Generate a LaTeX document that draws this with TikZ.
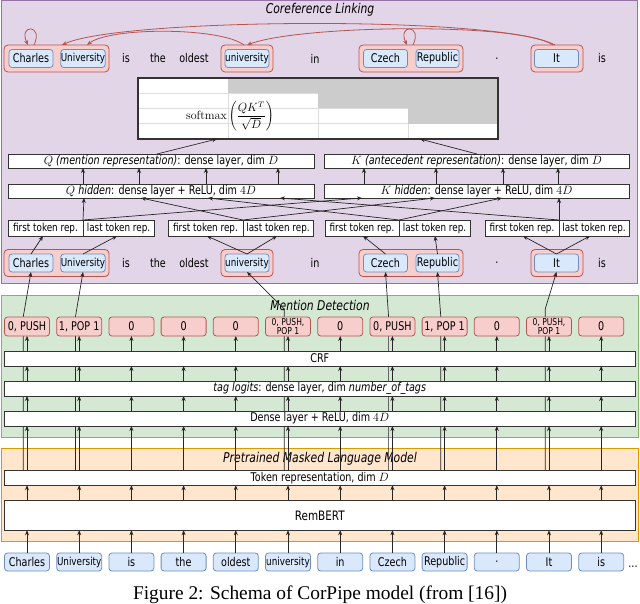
\documentclass[tikz,border=0pt]{standalone}
\usepackage[no-math]{fontspec}
\setmainfont{DejaVu Sans}[FakeStretch=0.8]
\newfontfamily\capfont{Liberation Serif}
\usetikzlibrary{arrows.meta,calc}
\definecolor{purpF}{HTML}{E1D5E7}
\definecolor{purpD}{HTML}{9673A6}
\definecolor{greenF}{HTML}{D5E8D4}
\definecolor{greenD}{HTML}{82B366}
\definecolor{orF}{HTML}{FFE6CC}
\definecolor{orD}{HTML}{D79B00}
\definecolor{blF}{HTML}{DAE8FC}
\definecolor{blD}{HTML}{6C8EBF}
\definecolor{rdF}{HTML}{F8CECC}
\definecolor{rdD}{HTML}{B85450}
\definecolor{cellG}{HTML}{CCCCCC}
\definecolor{gridG}{HTML}{DDDDDD}
\newcommand\fsz[1]{\fontsize{#1}{#1}\selectfont}
\begin{document}
\begin{tikzpicture}[x=1pt,y=-1pt,
  every node/.style={inner sep=0pt,outer sep=0pt},
  tok/.style={draw=blD,fill=blF,rounded corners=3pt,minimum width=44pt,minimum height=18pt,font=\fsz{12},line width=0.8pt},
  men/.style={draw=rdD,fill=rdF,rounded corners=4pt,minimum height=27pt,line width=0.8pt},
  tagbox/.style={draw=rdD,fill=rdF,rounded corners=3pt,minimum width=45pt,minimum height=19pt,line width=0.8pt,align=center},
  layer/.style={draw=black!80,fill=white,minimum width=630.5pt,line width=0.8pt,font=\fsz{12}},
  half/.style={draw=black!80,fill=white,minimum height=14pt,line width=0.8pt,font=\fsz{12}},
  repbox/.style={draw=black!80,fill=white,minimum height=16pt,line width=0.8pt,font=\fsz{11}},
  word/.style={font=\fsz{12}},
  ttl/.style={font=\fsz{13.5}\itshape},
  arr/.style={-{Stealth[length=5pt,width=4pt]},line width=0.7pt,draw=black!85},
  redarr/.style={-{Stealth[length=5pt,width=4pt]},line width=0.8pt,draw=rdD},
]
\useasboundingbox (0,0) rectangle (640,604);

% regions
\node[draw=purpD,fill=purpF,line width=1pt,minimum width=636pt,minimum height=282pt] (coref) at (319,142) {};
\node[draw=greenD,fill=greenF,line width=1pt,minimum width=636.5pt,minimum height=142pt] (md) at (319.75,366) {};
\node[draw=orD,fill=orF,line width=1pt,minimum width=637pt,minimum height=93pt] (plm) at (319.5,494.5) {};
\node[ttl] (t1) at (320,10) {Coreference Linking};
\node[ttl] (t2) at (320,305) {Mention Detection};
\node[ttl] (t3) at (320,459) {Pretrained Masked Language Model};

% coreference rows (top and lower)
\foreach \r/\y in {t/58.5,c/263}{
  \node[men,minimum width=105pt] (\r m1) at (56.5,\y) {};
  \node[men,minimum width=52pt] (\r m2) at (247,\y) {};
  \node[men,minimum width=104pt] (\r m3) at (411,\y) {};
  \node[men,minimum width=52pt] (\r m4) at (557,\y) {};
  \node[tok] (\r a) at (31,\y) {Charles};
  \node[tok,font=\fsz{11}] (\r b) at (83,\y) {University};
  \node[tok,font=\fsz{11}] (\r c) at (247,\y) {university};
  \node[tok] (\r d) at (385.5,\y) {Czech};
  \node[tok,minimum width=43pt] (\r e) at (437.5,\y) {Republic};
  \node[tok] (\r f) at (556.5,\y) {It};
  \node[word] (\r w1) at (126,\y) {is};
  \node[word] (\r w2) at (158,\y) {the};
  \node[word] (\r w3) at (194,\y) {oldest};
  \node[word] (\r w4) at (315,\y) {in};
  \node[word] (\r w5) at (497,\y) {.};
  \node[word] (\r w6) at (602,\y) {is};
}

% matrix
\fill[white] (138,78) rectangle (498,139);
\foreach \yy in {93.25,108.5,123.75} \draw[gridG,line width=0.8pt] (138,\yy) -- (498,\yy);
\foreach \xx in {228,318,408} \draw[gridG,line width=0.8pt] (\xx,78) -- (\xx,139);
\fill[cellG] (228,78) rectangle (498,93.25);
\fill[cellG] (318,93.25) rectangle (498,108.5);
\fill[cellG] (408,108.5) rectangle (498,123.75);
\node[draw=black!80,line width=1.2pt,minimum width=360pt,minimum height=61pt] (mat) at (318,108.5) {};
\node[font=\fsz{12}] (sm) at (230,116.5) {$\displaystyle\mathrm{softmax}\left(\frac{QK^T}{\sqrt{D}}\right)$};

% Q/K layers
\node[half,minimum width=306pt] (qbox) at (161,161) {{\itshape $Q$ (mention representation)}: dense layer, dim $D$};
\node[half,minimum width=305pt] (kbox) at (476.5,161) {{\itshape $K$ (antecedent representation)}: dense layer, dim $D$};
\node[half,minimum width=306pt] (qhid) at (161,191) {{\itshape $Q$ hidden}: dense layer + ReLU, dim $4D$};
\node[half,minimum width=305pt] (khid) at (476.5,191) {{\itshape $K$ hidden}: dense layer + ReLU, dim $4D$};

% span representations
\node[repbox,minimum width=75pt] (f1) at (45.5,228) {first token rep.};
\node[repbox,minimum width=71pt] (l1) at (118.5,228) {last token rep.};
\node[repbox,minimum width=75pt] (f2) at (205.5,228) {first token rep.};
\node[repbox,minimum width=70pt] (l2) at (278,228) {last token rep.};
\node[repbox,minimum width=74pt] (f3) at (362,228) {first token rep.};
\node[repbox,minimum width=71pt] (l3) at (434.5,228) {last token rep.};
\node[repbox,minimum width=74pt] (f4) at (522,228) {first token rep.};
\node[repbox,minimum width=70pt] (l4) at (594,228) {last token rep.};

% lower layers (positions needed for long lines)
\node[layer,minimum height=29.5pt,font=\fsz{13}] (rembert) at (319.75,515.5) {RemBERT};
\node[layer,minimum height=14.5pt] (tokrep) at (319.75,478) {Token representation, dim $D$};
\foreach \i in {0,...,11}
  \coordinate (cx\i) at ({27+52.2*\i},326.5);

% long lines from token representation to the coreference tokens
\foreach \i/\n/\s in {0/ca/0,1/cb/0,5/cc/8,7/cd/0,8/ce/0,10/cf/8}
  \draw[arr] ($(cx\i |- tokrep.north)+(-3.8,0)$) -- ($(cx\i)+(-3.8,-9.5)$) -- ++(0,-\s) -- (\n.south);

\node[layer,minimum height=15pt] (dense) at (319.75,418.5) {Dense layer + ReLU, dim $4D$};
\node[layer,minimum height=15pt] (logits) at (319.75,388.5) {{\itshape tag logits}: dense layer, dim {\itshape number\_of\_tags}};
\node[layer,minimum height=15pt] (crf) at (319.75,358.5) {CRF};

\foreach \i/\t/\s in {0/{0, PUSH}/12,1/{1, POP 1}/12,2/0/12,3/0/12,4/0/12,5/{0, PUSH,\\POP 1}/9.5,6/0/12,7/{0, PUSH}/12,8/{1, POP 1}/12,9/0/12,10/{0, PUSH,\\POP 1}/9.5,11/0/12}
  \node[tagbox,font=\fsz{\s}] (g\i) at (cx\i) {\t};

\foreach \i/\t in {0/Charles,1/{\fsz{11}University},2/is,3/the,4/oldest,5/{\fsz{11}university},6/in,7/Czech,8/Republic,9/.,10/It,11/is}
  \node[tok,minimum width=45pt] (b\i) at ({27+52.2*\i},562) {\t};
\node[word,anchor=base] (dots) at (633,567) {...};

% column arrows
\foreach \i in {0,...,11}{
  \draw[arr] (b\i.north) -- (b\i.north |- rembert.south);
  \draw[arr] (b\i.north |- rembert.north) -- (b\i.north |- tokrep.south);
  \draw[arr] (b\i.north |- tokrep.north) -- (b\i.north |- dense.south);
  \draw[arr] (b\i.north |- dense.north) -- (b\i.north |- logits.south);
  \draw[arr] (b\i.north |- logits.north) -- (b\i.north |- crf.south);
  \draw[arr] (b\i.north |- crf.north) -- (g\i.south);
}

% coreference tokens -> span representations
\draw[arr] (ca.north) -- (43,0 |- f1.south);
\draw[arr] (cb.north) -- (117,0 |- l1.south);
\draw[arr] (cc.north) -- (207,0 |- f2.south);
\draw[arr] (cc.north) -- (277,0 |- l2.south);
\draw[arr] (cd.north) -- (363,0 |- f3.south);
\draw[arr] (ce.north) -- (435,0 |- l3.south);
\draw[arr] (cf.north) -- (523,0 |- f4.south);
\draw[arr] (cf.north) -- (590,0 |- l4.south);

% span representations -> hidden layers
\draw[arr] (f1.north east) -- (84,0 |- qhid.south);
\draw[arr] (f1.north east) -- (362,0 |- khid.south);
\draw[arr] (f2.north east) -- (141,0 |- qhid.south);
\draw[arr] (f2.north east) -- (435,0 |- khid.south);
\draw[arr] (f3.north east) -- (208,0 |- qhid.south);
\draw[arr] (f3.north east) -- (502,0 |- khid.south);
\draw[arr] (f4.north east) -- (280,0 |- qhid.south);
\draw[arr] (f4.north east) -- (559,0 |- khid.south);

% hidden -> Q/K
\foreach \xx in {83,139,206,278}
  \draw[arr] (\xx,0 |- qhid.north) -- (\xx,0 |- qbox.south);
\foreach \xx in {364,436,503,558}
  \draw[arr] (\xx,0 |- khid.north) -- (\xx,0 |- kbox.south);

% Q/K -> matrix
\draw[arr] (157,0 |- qbox.north) -- (217,0 |- mat.south);
\draw[arr] (477,0 |- kbox.north) -- (420,0 |- mat.south);

% coreference links
\draw[redarr] ($(tm1.north west)+(30,0)$) .. controls +(10,-21) and +(-10,-21) .. ($(tm1.north west)+(24,0)$);
\draw[redarr] ($(tm3.north west)+(54,0)$) .. controls +(10,-21) and +(-10,-21) .. ($(tm3.north west)+(48,0)$);
\draw[redarr] ($(tm4.north)+(-2,0)$) .. controls (500,15) and (120,18) .. ($(tm1.north west)+(58,0)$);
\draw[redarr] ($(tm4.north)+(-4,0)$) .. controls (520,22) and (300,25) .. (tm2.north);
\draw[redarr] ($(tm2.north)+(-3,0)$) .. controls (220,27) and (110,27) .. ($(tm1.north west)+(83,0)$);

% caption
\node[anchor=base,font=\capfont\fsz{19.4}] (cap) at (320,599) {Figure 2: Schema of CorPipe model (from [16])};
\end{tikzpicture}
\end{document}
